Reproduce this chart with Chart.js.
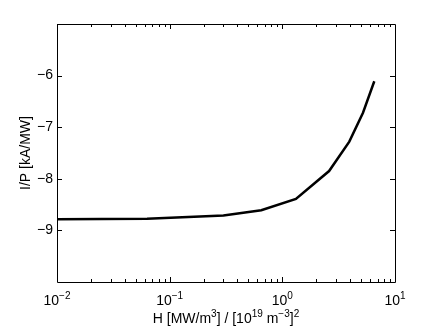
<!DOCTYPE html>
<html>
<head>
<meta charset="utf-8">
<script src="https://cdn.jsdelivr.net/npm/chart.js@4"></script>
<style>
  html, body { margin: 0; padding: 0; background: #fff; }
  #box { width: 436px; height: 328px; }
</style>
</head>
<body>
<div id="box"><canvas id="grafico" width="436" height="328"></canvas></div>
<script>
// valores
var hValores = [0.01, 0.063, 0.3, 0.65, 1.32, 2.6, 3.93, 5.2, 6.55];
var ipValores = [-8.786, -8.775, -8.71, -8.61, -8.39, -7.85, -7.28, -6.72, -6.11];
var xTicksMaiores = [0.01, 0.1, 1, 10];
var xExpoentes = ['\u22122', '\u22121', '0', '1'];
var yTicks = [-9, -8, -7, -6];
var tituloX = [
    { t: 'H [MW/m' }, { t: '3', sup: true }, { t: '] / [10' }, { t: '19', sup: true },
    { t: ' m' }, { t: '\u22123', sup: true }, { t: ']' }, { t: '2', sup: true }
];

var fonte = "'Liberation Sans', Arial, 'DejaVu Sans', sans-serif";

// escreve texto com expoentes, centrado em cx
function escreverRico(ctx, partes, cx, baseY, tam) {
    var tamSup = Math.round(tam * 0.72);
    var larguras = partes.map(function(p) {
        ctx.font = (p.sup ? tamSup : tam) + 'px ' + fonte;
        return ctx.measureText(p.t).width;
    });
    var total = larguras.reduce(function(a, b) { return a + b; }, 0);
    var x = cx - total / 2;
    ctx.textAlign = 'left';
    ctx.textBaseline = 'alphabetic';
    partes.forEach(function(p, i) {
        ctx.font = (p.sup ? tamSup : tam) + 'px ' + fonte;
        ctx.fillText(p.t, x, p.sup ? baseY - tam * 0.45 : baseY);
        x += larguras[i];
    });
}

// moldura, ticks internos e rotulos do eixo x (estilo matlab)
var molduraPlugin = {
    id: 'moldura',
    afterDraw: function(chart) {
        var ctx = chart.ctx;
        var a = chart.chartArea;
        var sx = chart.scales.x, sy = chart.scales.y;
        ctx.save();
        ctx.strokeStyle = '#000';
        ctx.lineWidth = 1;
        ctx.beginPath();
        ctx.rect(Math.round(a.left) + 0.5, Math.round(a.top) + 0.5,
                 Math.round(a.right - a.left), Math.round(a.bottom - a.top));
        ctx.stroke();

        ctx.beginPath();
        for (var d = -2; d < 1; d++) {
            for (var m = 1; m <= 9; m++) {
                var v = m * Math.pow(10, d);
                var px = Math.round(sx.getPixelForValue(v)) + 0.5;
                var len = (m === 1) ? 5 : 3;
                ctx.moveTo(px, a.bottom);
                ctx.lineTo(px, a.bottom - len);
                ctx.moveTo(px, a.top);
                ctx.lineTo(px, a.top + len);
            }
        }
        yTicks.forEach(function(v) {
            var py = Math.round(sy.getPixelForValue(v)) + 0.5;
            ctx.moveTo(a.left, py);
            ctx.lineTo(a.left + 5, py);
            ctx.moveTo(a.right, py);
            ctx.lineTo(a.right - 5, py);
        });
        ctx.stroke();

        ctx.fillStyle = '#000';
        xTicksMaiores.forEach(function(v, i) {
            var px = sx.getPixelForValue(v);
            escreverRico(ctx, [{ t: '10' }, { t: xExpoentes[i], sup: true }], px, a.bottom + 23, 14);
        });
        escreverRico(ctx, tituloX, (a.left + a.right) / 2, a.bottom + 41, 14);
        ctx.restore();
    }
};

var config = {
    type: 'line',
    data: {
        datasets: [{
            data: hValores.map(function(h, i) { return { x: h, y: ipValores[i] }; }),
            borderColor: '#000',
            borderWidth: 2.5,
            pointRadius: 0,
            tension: 0,
            fill: false
        }]
    },
    options: {
        responsive: false,
        animation: false,
        layout: { padding: { top: 24, right: 41, left: 18, bottom: 0 } },
        plugins: {
            legend: { display: false },
            tooltip: { enabled: false }
        },
        scales: {
            x: {
                type: 'logarithmic',
                min: 0.01,
                max: 10,
                grid: { display: false, drawTicks: false },
                border: { display: false },
                afterBuildTicks: function(scale) {
                    scale.ticks = xTicksMaiores.map(function(v) { return { value: v }; });
                },
                afterFit: function(scale) { scale.height = 46; },
                ticks: { display: false }
            },
            y: {
                min: -10,
                max: -5,
                grid: { display: false, drawTicks: false },
                border: { display: false },
                afterBuildTicks: function(scale) {
                    scale.ticks = yTicks.map(function(v) { return { value: v }; });
                },
                afterFit: function(scale) { scale.width = 39; },
                ticks: {
                    color: '#000',
                    font: { family: fonte, size: 14 },
                    padding: 4,
                    callback: function(v) { return '\u2212' + Math.abs(v); }
                },
                title: {
                    display: true,
                    text: 'I/P [kA/MW]',
                    color: '#000',
                    font: { family: fonte, size: 14 },
                    padding: { top: 0, bottom: 0 }
                }
            }
        }
    },
    plugins: [molduraPlugin]
};

var ctx = document.getElementById('grafico').getContext('2d');
new Chart(ctx, config);
</script>
</body>
</html>
